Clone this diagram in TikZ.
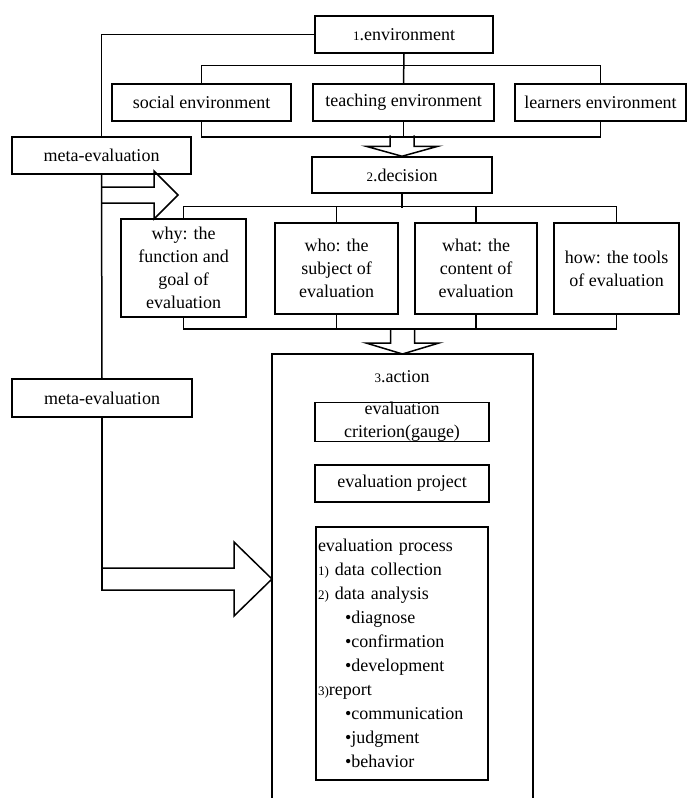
\documentclass[tikz,border=0pt]{standalone}
\usepackage{fontspec}
\setmainfont{Liberation Serif}
\newcommand{\numsmall}[1]{{\fontsize{13}{24}\selectfont #1}}
\tikzset{
  box/.style={draw, line width=1.5pt, inner sep=1pt, align=center, font=\fontsize{18}{23}\selectfont},
  listbox/.style={draw, line width=1.5pt, inner sep=2pt, align=left, text width=168pt, font=\fontsize{18}{24}\selectfont},
  link/.style={line width=1.5pt},
}

\begin{document}
\begin{tikzpicture}[x=1pt,y=-1pt]
\useasboundingbox (0,0) rectangle (689,798);

% 1. environment
\node[box, minimum width=178, minimum height=37] (env) at (404,34.5) {\numsmall{1}.environment};
\node[box, minimum width=179, minimum height=37] (social) at (201.5,102.5) {social environment};
\node[box, minimum width=181, minimum height=37] (teaching) at (403.5,102.5) {teaching environment};
\node[box, minimum width=171, minimum height=37] (learners) at (600.5,102.5) {learners environment};

\draw[link] (env.south) -- (teaching.north);
\draw[link] (social.north) -- ++(0,-18) -| (learners.north);
\draw[link] (social.south) -- ++(0,15) -| (learners.south);
\draw[link] (teaching.south) -- ++(0,15);

% 2. decision
\node[box, minimum width=180, minimum height=36] (decision) at (402,175) {\numsmall{2}.decision};
\draw[link] (decision.north) ++(-12,-21) -- ++(0,11) -- ++(-24,0) -- ++(36,10) -- ++(36,-10) -- ++(-24,0) -- ++(0,-11);

\node[box, minimum width=125, minimum height=98] (why) at (183.5,268) {why: the\\function and\\goal of\\evaluation};
\node[box, minimum width=123, minimum height=91] (who) at (336.5,268.5) {who: the\\subject of\\evaluation};
\node[box, minimum width=122, minimum height=91] (what) at (476,268.5) {what: the\\content of\\evaluation};
\node[box, minimum width=125, minimum height=91] (how) at (616.5,268.5) {how: the tools\\of evaluation};

\draw[link] (decision.south) -- ++(0,14);
\draw[link] (why.north) -- ++(0,-12) -| (how.north);
\draw[link] (who.north) -- ++(0,-16);
\draw[link] (what.north) -- ++(0,-16);
\draw[link] (why.south) -- ++(0,11) -| (how.south);
\draw[link] (who.south) -- ++(0,14);
\draw[link] (what.south) -- ++(0,14);

% 3. action
\coordinate (acttop) at (402.5,354);
\draw[link] (272,798) |- (533,354) -- (533,798);
\draw[link] (acttop) ++(-12,-26) -- ++(0,15) -- ++(-24.5,0) -- ++(36.5,11) -- ++(36.5,-11) -- ++(-24.5,0) -- ++(0,-15);
\node[font=\fontsize{18}{23}\selectfont] (actlabel) at (402,377) {\numsmall{3}.action};

\node[box, minimum width=174, minimum height=38, inner sep=0pt] (criterion) at (402,422) {evaluation\\criterion(gauge)};
\node[box, minimum width=174, minimum height=37] (project) at (402,483.5) {evaluation project};
\node[listbox, minimum height=253] (process) at (402,653.5) {evaluation process\\
\numsmall{1)} data collection\\
\numsmall{2)} data analysis\\
\hspace*{27pt}•diagnose\\
\hspace*{27pt}•confirmation\\
\hspace*{27pt}•development\\
\numsmall{3)}report\\
\hspace*{27pt}•communication\\
\hspace*{27pt}•judgment\\
\hspace*{27pt}•behavior};

% meta-evaluation
\node[box, minimum width=179, minimum height=37] (meta1) at (101.5,155.5) {meta-evaluation};
\node[box, minimum width=180, minimum height=38] (meta2) at (102,398) {meta-evaluation};

\draw[link] (env.west) -| (meta1.north);
\draw[link] (meta1.south) -- (meta2.north);
\draw[link] (meta2.south) -- ++(0,173);

\coordinate (tipwhy) at (178,195);
\draw[link] (tipwhy) ++(-76,-8) -- ++(52,0) -- ++(0,-16) -- ++(24,24) -- ++(-24,24) -- ++(0,-16) -- ++(-52,0);
\coordinate (tipact) at (272,579);
\draw[link] (tipact) ++(-170,-11) -- ++(132,0) -- ++(0,-26) -- ++(38,37) -- ++(-38,37) -- ++(0,-26) -- ++(-132,0);
\end{tikzpicture}
\end{document}
